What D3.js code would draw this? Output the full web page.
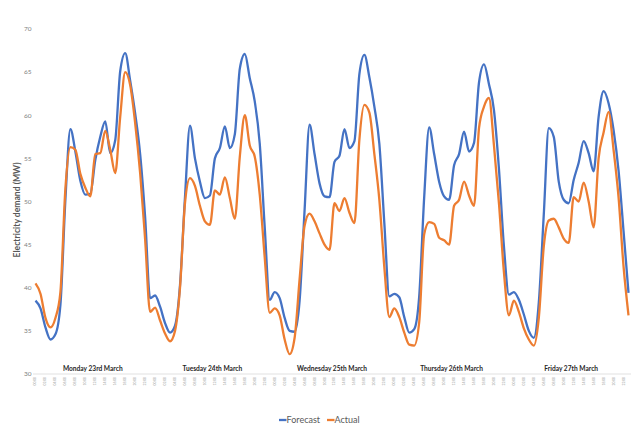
<!DOCTYPE html>
<html>
<head>
<meta charset="utf-8">
<script src="https://cdn.jsdelivr.net/npm/d3@7"></script>
<style>
  body { margin: 0; background: #fff; }
  svg { display: block; font-family: Lato, 'Open Sans', sans-serif; }
</style>
</head>
<body>
<svg id="chart"></svg>
<script>

// day names shown along the bottom of the plot
const days = ['Monday 23rd March', 'Tuesday 24th March', 'Wednesday 25th March', 'Thursday 26th March', 'Friday 27th March'];

// hourly categories (one per hour, five days)
const hours = ['00:00','01:00','02:00','03:00','04:00','05:00','06:00','07:00','08:00','09:00','10:00','11:00',
               '12:00','13:00','14:00','15:00','16:00','17:00','18:00','19:00','20:00','21:00','22:00','23:00'];

const yTicks = [30, 35, 40, 45, 50, 55, 60, 65, 70];

// MW, forecast
const forecast = [
  38.5, 37.6, 35.4, 34.0, 34.6, 38.0, 50.2, 58.4, 55.8, 52.4, 50.8, 50.9, 54.8, 57.5, 59.3, 55.6, 57.1, 65.1, 67.2, 64.0, 60.2, 55.5, 48.2, 38.8,
  39.1, 37.8, 35.9, 34.8, 35.6, 40.3, 50.5, 58.8, 55.0, 52.3, 50.4, 50.7, 55.0, 56.2, 58.7, 56.2, 57.8, 65.4, 67.1, 64.3, 61.6, 56.7, 47.0, 38.6,
  39.5, 38.8, 36.5, 35.0, 34.9, 38.5, 49.0, 58.9, 55.5, 52.1, 50.6, 50.5, 54.6, 55.3, 58.4, 56.2, 57.0, 64.8, 67.0, 64.4, 61.0, 56.7, 47.5, 39.0,
  39.3, 38.9, 36.6, 34.8, 35.2, 39.0, 50.5, 58.6, 55.5, 52.3, 50.6, 50.2, 54.2, 55.5, 58.1, 55.8, 56.8, 63.8, 65.9, 63.6, 60.6, 53.8, 44.8, 39.2,
  39.5, 38.6, 36.9, 35.0, 34.2, 38.3, 48.5, 58.5, 57.5, 52.3, 50.2, 49.8, 52.5, 54.5, 57.0, 55.6, 53.5, 59.8, 62.8, 61.4, 58.3, 53.6, 46.6, 39.4
];

// MW, actual
const actual = [
  40.5, 39.3, 36.5, 35.4, 36.5, 39.5, 51.5, 56.3, 56.0, 53.2, 51.6, 50.6, 55.5, 55.6, 58.2, 56.0, 53.3, 59.8, 65.0, 63.5, 59.1, 53.3, 45.6, 37.2,
  37.7, 36.2, 34.7, 33.8, 35.0, 40.0, 49.8, 52.7, 51.8, 49.5, 47.7, 47.3, 51.3, 50.8, 52.8, 50.4, 48.0, 55.2, 60.0, 56.5, 55.2, 50.8, 43.5, 37.1,
  37.6, 36.8, 34.0, 32.3, 34.2, 41.0, 47.2, 48.6, 47.7, 46.3, 45.0, 44.4, 49.8, 48.9, 50.4, 48.7, 47.5, 57.2, 61.2, 60.3, 55.5, 50.2, 42.4, 36.6,
  37.6, 36.6, 34.8, 33.4, 33.3, 36.0, 46.2, 47.6, 47.4, 45.8, 45.5, 45.0, 49.5, 50.2, 52.3, 50.7, 49.5, 58.5, 61.0, 62.0, 56.5, 49.8, 41.8, 36.8,
  38.5, 37.2, 35.3, 34.0, 33.3, 36.5, 44.8, 47.8, 48.0, 47.0, 45.7, 45.2, 50.5, 50.0, 52.2, 50.0, 47.0, 55.0, 58.0, 60.4, 56.0, 50.5, 42.5, 36.8
];

const w = 640, h = 429;
const plotLeft = 33, plotRight = 631, plotTop = 29, plotBottom = 374;

const svg = d3.select('#chart').attr('width', w).attr('height', h);
svg.append('rect').attr('width', w).attr('height', h).attr('fill', '#fff');

// one key per hour slot
const keys = [];
days.forEach((d, di) => hours.forEach(hr => keys.push(di + ' ' + hr)));

const x = d3.scalePoint().domain(keys).range([plotLeft, plotRight]).padding(0.5);
const y = d3.scaleLinear().domain([30, 70]).range([plotBottom, plotTop]);

// y labels
svg.append('g')
  .selectAll('text')
  .data(yTicks)
  .join('text')
  .attr('x', 31.5)
  .attr('y', d => y(d) + 2.3)
  .attr('text-anchor', 'end')
  .attr('font-size', 6.5)
  .attr('fill', '#808080')
  .text(d => d);

svg.append('text')
  .attr('transform', 'translate(20,210) rotate(-90)')
  .attr('text-anchor', 'middle')
  .attr('font-size', 8.6)
  .attr('font-weight', 'bold')
  .attr('fill', '#595959')
  .text('Electricity demand (MW)');

// category axis
svg.append('line')
  .attr('x1', plotLeft).attr('x2', plotRight)
  .attr('y1', plotBottom).attr('y2', plotBottom)
  .attr('stroke', '#d9d9d9').attr('stroke-width', 0.8);

svg.append('g')
  .selectAll('text')
  .data(keys.filter((k, i) => i % 2 == 0))
  .join('text')
  .attr('transform', d => `translate(${x(d) + 1},377) rotate(-90)`)
  .attr('text-anchor', 'end')
  .attr('font-size', 3.3)
  .attr('fill', '#999')
  .text(d => d.split(' ')[1]);

// day names, centred on each day
svg.append('g')
  .selectAll('text')
  .data(days)
  .join('text')
  .attr('x', (d, i) => (x(i + ' 00:00') + x(i + ' 23:00')) / 2)
  .attr('y', 371)
  .attr('text-anchor', 'middle')
  .attr('font-size', 6.6)
  .attr('font-weight', 'bold')
  .attr('fill', '#262626')
  .text(d => d);

// lines (smoothed, like the spreadsheet's)
const line = d3.line()
  .x((d, i) => x(keys[i]))
  .y(d => y(d))
  .curve(d3.curveMonotoneX);

svg.append('path')
  .attr('d', line(forecast))
  .attr('fill', 'none')
  .attr('stroke', '#4472C4')
  .attr('stroke-width', 2.3)
  .attr('stroke-linejoin', 'round');

svg.append('path')
  .attr('d', line(actual))
  .attr('fill', 'none')
  .attr('stroke', '#ED7D31')
  .attr('stroke-width', 2.3)
  .attr('stroke-linejoin', 'round');

// legend
const legend = svg.append('g').attr('font-size', 9).attr('fill', '#595959');
[['Forecast', '#4472C4', 279], ['Actual', '#ED7D31', 327]].forEach(([name, col, lx]) => {
  legend.append('line')
    .attr('x1', lx).attr('x2', lx + 7.5)
    .attr('y1', 420).attr('y2', 420)
    .attr('stroke', col).attr('stroke-width', 2.3);
  legend.append('text')
    .attr('x', lx + 7.5)
    .attr('y', 423.2)
    .text(name);
});

</script>
</body>
</html>
